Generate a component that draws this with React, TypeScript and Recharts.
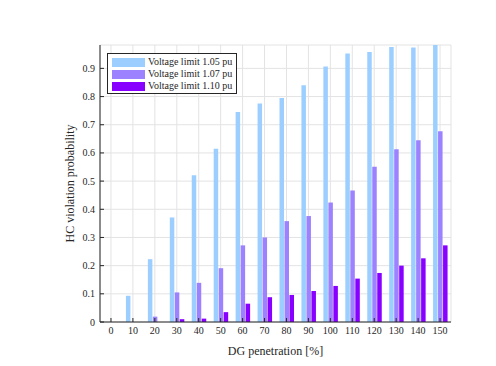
import React from 'react';
import {
  BarChart,
  Bar,
  XAxis,
  YAxis,
  CartesianGrid,
} from 'recharts';

const penetration = ['0', '10', '20', '30', '40', '50', '60', '70', '80', '90', '100', '110', '120', '130', '140', '150'];
const limit105 = [0, 0.093, 0.223, 0.371, 0.521, 0.615, 0.745, 0.775, 0.795, 0.84, 0.907, 0.953, 0.958, 0.976, 0.974, 0.983];
const limit107 = [0, 0, 0.019, 0.105, 0.139, 0.191, 0.272, 0.3, 0.358, 0.376, 0.424, 0.467, 0.551, 0.613, 0.645, 0.677];
const limit110 = [0, 0, 0, 0.01, 0.012, 0.035, 0.065, 0.088, 0.096, 0.11, 0.128, 0.154, 0.174, 0.2, 0.226, 0.272];
const yTicks = [0, 0.1, 0.2, 0.3, 0.4, 0.5, 0.6, 0.7, 0.8, 0.9];
const yMax = 0.983;

const seriesNames = ['Voltage limit 1.05 pu', 'Voltage limit 1.07 pu', 'Voltage limit 1.10 pu'];
const seriesColors = ['#9ccfff', '#9d82ff', '#8800ff'];

const data = penetration.map((p, i) => ({
  p,
  a: limit105[i],
  b: limit107[i],
  c: limit110[i],
}));

const FONT = '"Liberation Serif", "Times New Roman", serif';
const INK = '#262626';

const NoTick = () => <g />;

// legend drawn over the plot, upper left, like matlab's box legend
function LegendBox() {
  return (
    <div
      style={{
        position: 'absolute',
        left: 99,
        top: 45,
        border: `1px solid ${INK}`,
        background: '#fff',
        padding: '2px 4px 1px 4px',
        fontFamily: FONT,
        fontSize: 10,
        color: INK,
        lineHeight: '12px',
      }}
    >
      {seriesNames.map((name, i) => (
        <div key={name} style={{ display: 'flex', alignItems: 'center', height: 12 }}>
          <span
            style={{
              display: 'inline-block',
              width: 33,
              height: 9,
              background: seriesColors[i],
              marginRight: 3,
            }}
          />
          <span>{name}</span>
        </div>
      ))}
    </div>
  );
}

export default function App() {
  return (
    <div style={{ position: 'relative', width: 480, height: 350 }}>
      <BarChart
        width={480}
        height={350}
        data={data}
        margin={{ top: 37, right: 37, bottom: 0, left: 0 }}
        barSize={4.5}
        barGap={0.5}
        style={{ fontFamily: FONT }}
      >
        <CartesianGrid stroke="#e3e3e3" strokeWidth={1} vertical horizontal />
        <XAxis
          dataKey="p"
          interval={0}
          height={36}
          tickSize={-4}
          tickMargin={9}
          axisLine={{ stroke: INK }}
          tickLine={{ stroke: INK }}
          tick={{ fill: INK, fontSize: 10, fontFamily: FONT }}
          label={{
            value: 'DG penetration [%]',
            position: 'insideBottom',
            offset: 3,
            fill: INK,
            fontSize: 12,
            fontFamily: FONT,
          }}
        />
        <XAxis
          xAxisId="top"
          dataKey="p"
          orientation="top"
          interval={0}
          height={0}
          tickSize={-4}
          axisLine={{ stroke: INK }}
          tickLine={{ stroke: INK }}
          tick={NoTick}
        />
        <YAxis
          type="number"
          domain={[0, yMax]}
          ticks={yTicks}
          width={92}
          tickSize={-4}
          tickMargin={9}
          axisLine={{ stroke: INK }}
          tickLine={{ stroke: INK }}
          tick={{ fill: INK, fontSize: 10, fontFamily: FONT }}
          label={{
            value: 'HC violation probability',
            angle: -90,
            position: 'insideLeft',
            offset: 62,
            fill: INK,
            fontSize: 12,
            fontFamily: FONT,
            style: { textAnchor: 'middle' },
          }}
        />
        <YAxis
          yAxisId="right"
          orientation="right"
          type="number"
          domain={[0, yMax]}
          ticks={yTicks}
          width={0}
          tickSize={-4}
          axisLine={{ stroke: INK }}
          tickLine={{ stroke: INK }}
          tick={NoTick}
        />
        <Bar dataKey="a" name={seriesNames[0]} fill={seriesColors[0]} isAnimationActive={false} />
        <Bar dataKey="b" name={seriesNames[1]} fill={seriesColors[1]} isAnimationActive={false} />
        <Bar dataKey="c" name={seriesNames[2]} fill={seriesColors[2]} isAnimationActive={false} />
      </BarChart>
      <LegendBox />
    </div>
  );
}
